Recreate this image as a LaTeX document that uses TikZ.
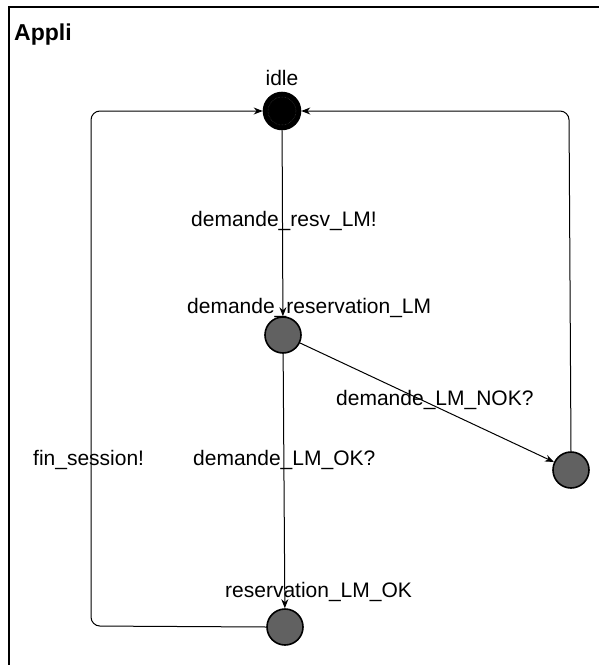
\documentclass[tikz,border=0pt]{standalone}
\usepackage{fontspec}
\setmainfont{Liberation Sans}
\usetikzlibrary{arrows.meta}
\begin{document}
\begin{tikzpicture}[x=1pt,y=-1pt,
  state/.style={circle,draw=black,line width=1.6pt,fill=black!62,minimum size=36pt,inner sep=0pt},
  initstate/.style={circle,draw=black,line width=1.6pt,fill=black,minimum size=37pt,inner sep=0pt},
  edge/.style={draw=black,line width=1pt,-{Stealth[length=9pt,width=7pt]}},
  lbl/.style={font=\fontsize{21}{25}\selectfont,inner sep=0pt,anchor=base west},
  frame/.style={draw=black,line width=2pt}]
\useasboundingbox (0,0) rectangle (599,665);
\fill[white] (0,0) rectangle (599,665);
% frame
\draw[frame] (9,665) -- (9,7) -- (599,7);
\node[font=\fontsize{23}{27}\selectfont\bfseries,inner sep=0pt,anchor=base west] (title) at (14,40) {Appli};
% states
\node[initstate] (idle) at (282,111) {};
\draw[black!75,line width=0.5pt,densely dotted] (idle.center) circle (14pt);
\node[state] (dem) at (283,335) {};
\node[state] (nok) at (571,470) {};
\node[state] (ok) at (285,627) {};
% coordinates for loops
\coordinate (cl) at (91,111);
\coordinate (cr) at (569,111);
\coordinate (bl) at (91,626);
% edges
\draw[edge] (idle) -- (dem);
\draw[edge] (dem) -- (ok);
\draw[edge] (dem) -- (nok);
\draw[edge,rounded corners=9pt] (nok.north) -- (cr) -- (idle.east);
\draw[edge,rounded corners=9pt] (ok.west) -- (bl) -- (cl) -- (idle.west);
% labels
\node[lbl,anchor=base] (lidle) at (282,85) {idle};
\node[lbl] (l1) at (191,226) {demande\_resv\_LM!};
\node[lbl] (l2) at (187,313) {demande\_reservation\_LM};
\node[lbl] (l3) at (336,405) {demande\_LM\_NOK?};
\node[lbl] (l4) at (33,465) {fin\_session!};
\node[lbl] (l5) at (193,465) {demande\_LM\_OK?};
\node[lbl] (l6) at (225,597) {reservation\_LM\_OK};
\end{tikzpicture}
\end{document}
